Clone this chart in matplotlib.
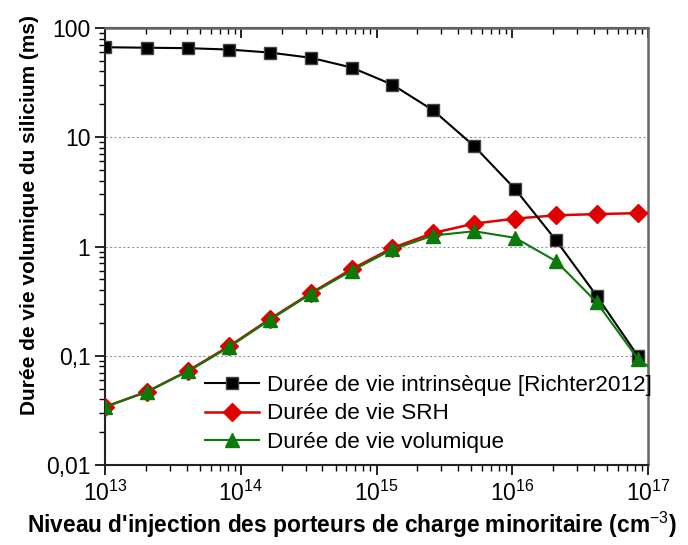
import matplotlib
matplotlib.use("Agg")
import matplotlib.pyplot as plt
from matplotlib.ticker import LogLocator, FixedLocator, FixedFormatter, NullFormatter

plt.rcParams['font.family'] = ['Liberation Sans', 'DejaVu Sans']
plt.rcParams['mathtext.fontset'] = 'custom'
plt.rcParams['mathtext.rm'] = 'Liberation Sans'
plt.rcParams['mathtext.it'] = 'Liberation Sans:italic'
plt.rcParams['mathtext.bf'] = 'Liberation Sans:bold'

# injection level (cm-3)
n_inj = [1e13, 2.05e13, 4.1e13, 8.2e13, 1.64e14, 3.28e14, 6.55e14, 1.31e15,
         2.62e15, 5.24e15, 1.05e16, 2.1e16, 4.19e16, 8.39e16]
n_inj_ext = n_inj + [1.68e17]

tau_intr = [66.7, 66.0, 65.4, 63.5, 59.6, 53.4, 43.5, 30.3, 17.6, 8.3, 3.35, 1.14, 0.353, 0.1]
tau_srh = [0.034, 0.047, 0.073, 0.122, 0.217, 0.374, 0.62, 0.97, 1.33, 1.62, 1.8, 1.93, 1.98, 2.02, 2.05]
tau_vol = [0.034, 0.047, 0.072, 0.12, 0.213, 0.368, 0.6, 0.94, 1.26, 1.38, 1.2, 0.735, 0.308, 0.094, 0.05]

labels = ["Durée de vie intrinsèque [Richter2012]", "Durée de vie SRH", "Durée de vie volumique"]
y_ticks = [0.01, 0.1, 1, 10, 100]
y_ticklabels = ["0,01", "0,1", "1", "10", "100"]
x_ticks = [1e13, 1e14, 1e15, 1e16, 1e17]
x_ticklabels = [r"$10^{13}$", r"$10^{14}$", r"$10^{15}$", r"$10^{16}$", r"$10^{17}$"]

fig = plt.figure(figsize=(6.88, 5.45), dpi=100)
ax = fig.add_axes([0.1526, 0.1468, 0.7893, 0.8018])

h2, = ax.plot(n_inj_ext, tau_srh, color="#e00000", lw=1.8, marker="D", ms=9,
              mec="#e00000", label=labels[1], zorder=3)
h1, = ax.plot(n_inj, tau_intr, color="black", lw=1.5, marker="s", ms=8,
              mec="#444444", label=labels[0], zorder=4)
h3, = ax.plot(n_inj_ext, tau_vol, color="#0a7a0a", lw=1.5, marker="^", ms=9.5,
              mec="#0a7a0a", label=labels[2], zorder=5)

ax.set_xscale("log")
ax.set_yscale("log")
ax.set_xlim(1e13, 1e17)
ax.set_ylim(0.01, 100)

ax.yaxis.set_major_locator(FixedLocator(y_ticks))
ax.yaxis.set_major_formatter(FixedFormatter(y_ticklabels))
ax.xaxis.set_major_locator(FixedLocator(x_ticks))
ax.xaxis.set_major_formatter(FixedFormatter(x_ticklabels))
ax.xaxis.set_minor_locator(LogLocator(base=10, subs=range(2, 10), numticks=20))
ax.yaxis.set_minor_locator(LogLocator(base=10, subs=range(2, 10), numticks=20))
ax.xaxis.set_minor_formatter(NullFormatter())
ax.yaxis.set_minor_formatter(NullFormatter())

ax.tick_params(which="major", direction="out", length=7, width=1.2, labelsize=16.5)
ax.tick_params(which="minor", direction="out", length=4, width=1)
ax.tick_params(axis="x", which="major", pad=4)

# mirrored ticks on top, pointing inward
top = ax.secondary_xaxis("top")
top.xaxis.set_major_locator(FixedLocator(x_ticks))
top.xaxis.set_minor_locator(LogLocator(base=10, subs=range(2, 10), numticks=20))
top.xaxis.set_major_formatter(NullFormatter())
top.xaxis.set_minor_formatter(NullFormatter())
top.tick_params(which="major", direction="in", length=7, width=1.2)
top.tick_params(which="minor", direction="in", length=4, width=1)
top.spines["top"].set_linewidth(1.5)
top.spines["top"].set_color("#444444")

ax.grid(True, which="major", axis="y", ls=(0, (2, 2)), color="#999999", lw=0.8)

for side in ["left", "bottom"]:
    ax.spines[side].set_linewidth(1.5)
    ax.spines[side].set_color("#222222")
for side in ["top", "right"]:
    ax.spines[side].set_linewidth(1.8)
    ax.spines[side].set_color("#666666")

ax.set_xlabel("Niveau d'injection des porteurs de charge minoritaire (cm$^{-3}$)",
              fontsize=16.4, fontweight="bold", labelpad=3, x=0.455)
ax.set_ylabel("Durée de vie volumique du silicium (ms)", fontsize=15,
              fontweight="bold", labelpad=5, y=0.572)

ax.legend(handles=[h1, h2, h3], loc="upper left", bbox_to_anchor=(0.184, 0.207),
          frameon=False, fontsize=16.2, handlelength=2.4, handletextpad=0.35,
          labelspacing=0.35, borderaxespad=0, borderpad=0)

fig.savefig("out.png", dpi=100)
